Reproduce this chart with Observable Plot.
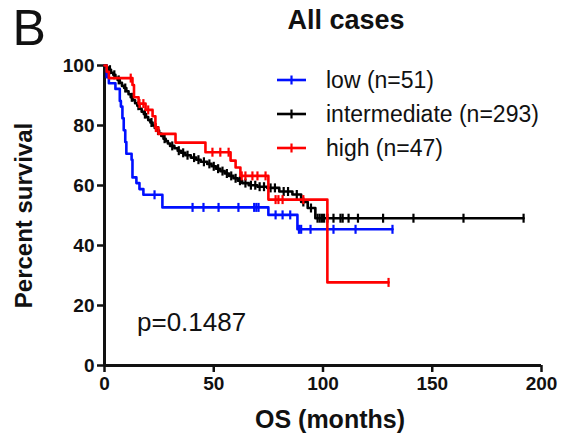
<!DOCTYPE html>
<html>
<head>
<meta charset="utf-8">
<script src="https://cdn.jsdelivr.net/npm/d3@7"></script>
<script src="https://cdn.jsdelivr.net/npm/@observablehq/plot@0.6"></script>
<style>
  body { margin: 0; background: #fff; font-family: "Liberation Sans", Arial, sans-serif; }
  #fig { position: relative; width: 579px; height: 441px; }
  #legend { position: absolute; left: 272px; top: 63px; font-size: 23px; color: #111; }
  #legend .row { display: flex; align-items: center; height: 34px; }
  #legend svg { width: 54px; height: 34px; flex: none; }
  #pval { position: absolute; left: 137px; top: 307px; font-size: 26px; color: #111; }
</style>
</head>
<body>
<div id="fig"></div>
<script>
// Kaplan–Meier step data: event times (months) and survival (%) after each step
const groups = ["low (n=51)", "intermediate (n=293)", "high (n=47)"];
const colors = ["#0010ff", "#000000", "#ff0000"];

const lowTime = [0, 1, 2, 5, 7, 7.5, 8.2, 8.8, 9.5, 10, 12.4, 12.8, 14.6, 16, 17.8, 26.5, 75, 88.3];
const lowSurv = [100, 96.1, 94.1, 92.2, 88.2, 86.3, 82.4, 78.4, 74.5, 70.6, 68.6, 62.7, 60.8, 58.8, 56.9, 52.7, 50.2, 45.4];
const lowEnd = 131.8;
const lowCensor = [22.9, 40.3, 45.3, 52.2, 61.3, 68.5, 69.5, 70.5, 78.3, 81.5, 85, 89, 90, 94.3, 104.8, 114.9, 131.8];

const midTime = [0, 1, 2, 3, 4, 5, 6, 7, 8, 9, 10, 11, 12, 13, 14, 15, 16, 17, 18, 19, 20, 21, 22, 23, 24, 25, 26, 27, 28, 29, 30,
  32, 33.5, 35, 37, 39.5, 42, 44, 47, 49, 51, 53, 55, 57, 59, 61, 63, 66, 70, 74.5, 80, 86, 90, 93, 96.5];
const midSurv = [100, 99.3, 98.6, 97.6, 96.9, 95.9, 95.2, 94.2, 93.2, 92.5, 91.4, 90.4, 89.4, 88.4, 87.4, 86.6, 85.6, 84.6, 83.8, 82.8, 81.8, 81.0, 80.0, 79.2, 78.3, 77.3, 76.5, 75.6, 74.8, 74.0, 73.2,
  72.4, 71.6, 70.9, 70.1, 69.3, 68.6, 67.9, 67.2, 66.4, 65.6, 64.8, 64.0, 63.2, 62.4, 61.6, 60.8, 60.1, 59.6, 59.2, 58.0, 57.0, 54.5, 52.5, 49.1];
const midEnd = 191.8;
const midCensor = [2.5, 4.5, 6.5, 9.5, 12.5, 15.5, 18.5, 21.5, 24.5, 27.5, 31, 34, 36, 38, 41, 43, 45.5, 48, 50, 52, 54, 56, 58, 60, 62, 64.5,
  67, 69, 71, 73, 76, 78, 82, 84, 88, 91, 94.5, 97.5, 98.5, 99.5, 100.5, 102, 104.8, 108, 109, 111.7, 116, 127.5, 141.4, 164.3, 191.8];

const highTime = [0, 1, 2, 12.8, 13.5, 15.6, 18.8, 22, 23.3, 24.7, 32.5, 46.2, 57.7, 60, 62.2, 75, 102];
const highSurv = [100, 97.9, 95.8, 93.5, 89.4, 87.3, 85.2, 83.1, 79.3, 77.2, 74.3, 71.1, 68.3, 66, 63.2, 55.3, 27.7];
const highEnd = 130;
const highCensor = [12, 16, 17.8, 20, 23.5, 49.4, 53, 56.8, 62.8, 64.5, 67.7, 70, 73.7, 78.3, 79.6, 81.5, 91, 130];

const xTicks = [0, 50, 100, 150, 200];
const yTicks = [0, 20, 40, 60, 80, 100];

// survival curve rows, extended flat to the last follow-up time
function curve(times, surv, end, group) {
  const rows = times.map((t, i) => ({time: t, surv: surv[i], group}));
  rows.push({time: end, surv: surv[surv.length - 1], group});
  return rows;
}
// censor marks sit on the curve: value of the last step at or before t
function censors(times, surv, cens, group) {
  return cens.map(t => {
    const i = d3.bisectRight(times, t) - 1;
    return {time: t, surv: surv[i], group};
  });
}

const series = [
  [lowTime, lowSurv, lowEnd, lowCensor],
  [midTime, midSurv, midEnd, midCensor],
  [highTime, highSurv, highEnd, highCensor]
];

// vertical tick used for censored observations
const censorTick = {
  draw(context, size) {
    const h = Math.sqrt(size / Math.PI);
    context.moveTo(0, -h);
    context.lineTo(0, h);
  }
};

const font = "'Liberation Sans', Arial, sans-serif";
const marks = [
  Plot.axisX({ticks: xTicks, tickSize: 7, strokeWidth: 2.5, tickPadding: 4, fontSize: 19, fontWeight: "bold", label: null}),
  Plot.axisY({ticks: yTicks, tickSize: 7, strokeWidth: 2.5, tickPadding: 3, fontSize: 19, fontWeight: "bold", label: null}),
  Plot.ruleY([0], {strokeWidth: 3}),
  Plot.ruleX([0], {strokeWidth: 3})
];
series.forEach(([t, s, end, c], k) => {
  marks.push(Plot.line(curve(t, s, end, groups[k]), {x: "time", y: "surv", curve: "step-after", stroke: colors[k], strokeWidth: 2.6}));
  marks.push(Plot.dot(censors(t, s, c, groups[k]), {x: "time", y: "surv", symbol: censorTick, r: 4.5, stroke: colors[k], strokeWidth: 2.2, fill: "none"}));
});
marks.push(
  Plot.text(["All cases"], {frameAnchor: "top", dx: 23, dy: -56, fontSize: 27, fontWeight: "bold", lineAnchor: "top"}),
  Plot.text(["B"], {frameAnchor: "top-left", dx: -92, dy: -56, fontSize: 50, textAnchor: "start", lineAnchor: "top"}),
  Plot.text(["Percent survival"], {frameAnchor: "left", dx: -80, rotate: -90, fontSize: 24, fontWeight: "bold", textAnchor: "middle", lineAnchor: "middle"}),
  Plot.text(["OS (months)"], {frameAnchor: "bottom", dx: 7, dy: 62, fontSize: 25, fontWeight: "bold"})
);

const chart = Plot.plot({
  width: 579,
  height: 441,
  marginLeft: 104,
  marginRight: 38,
  marginTop: 65,
  marginBottom: 76,
  x: {domain: [0, 200]},
  y: {domain: [0, 100]},
  style: {fontFamily: font, background: "#fff", color: "#111", overflow: "visible"},
  marks
});

const fig = document.getElementById("fig");
fig.appendChild(chart);

// legend: coloured line with a centre tick, then the group label
const legend = document.createElement("div");
legend.id = "legend";
groups.forEach((g, k) => {
  const row = document.createElement("div");
  row.className = "row";
  row.innerHTML = `<svg viewBox="0 0 54 34"><line x1="5" x2="34" y1="17" y2="17" stroke="${colors[k]}" stroke-width="2.6"/>` +
    `<line x1="19.5" x2="19.5" y1="12.5" y2="21.5" stroke="${colors[k]}" stroke-width="2.2"/></svg><span>${g}</span>`;
  legend.appendChild(row);
});
fig.appendChild(legend);

const p = document.createElement("div");
p.id = "pval";
p.textContent = "p=0.1487";
fig.appendChild(p);
</script>
</body>
</html>
